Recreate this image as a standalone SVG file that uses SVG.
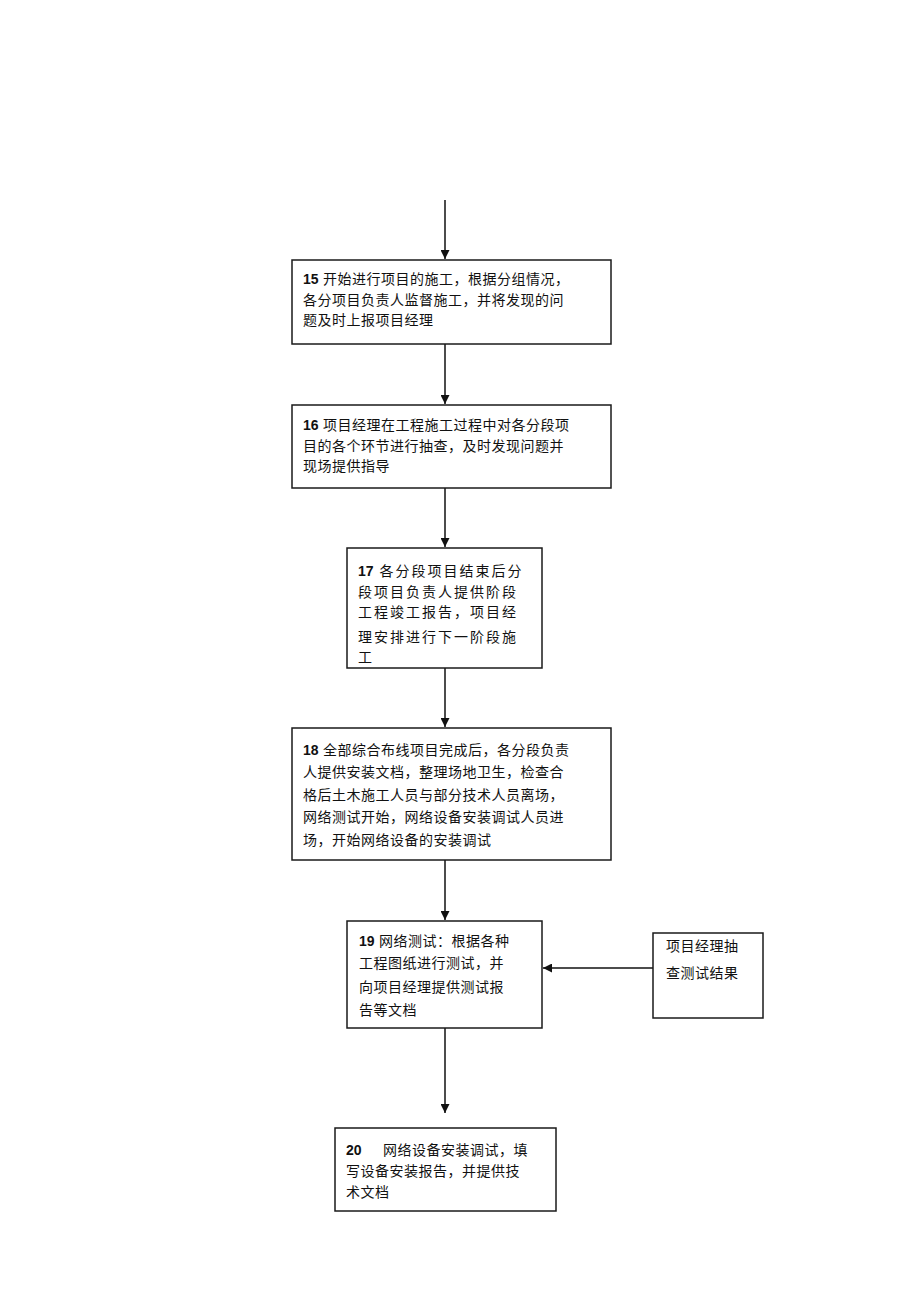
<svg xmlns="http://www.w3.org/2000/svg" width="920" height="1303" viewBox="0 0 920 1303">
<style>
.box{fill:#fff;stroke:#1a1a1a;stroke-width:1.5}
.t{font-family:"Liberation Sans","Noto Sans CJK SC",sans-serif;font-size:14px;fill:#111;letter-spacing:0.5px}
.w{letter-spacing:2px}
.n{font-weight:bold;letter-spacing:0}
.c{stroke:#111;stroke-width:1.5;fill:none}
</style>
<defs>
<marker id="ah" viewBox="0 0 10 10" refX="10" refY="5" markerWidth="6" markerHeight="6" orient="auto" markerUnits="strokeWidth">
<path d="M0,0 L10,5 L0,10 z" fill="#111"/>
</marker>
</defs>
<rect width="920" height="1303" fill="#fff"/>
<g id="connectors">
<line class="c" x1="445" y1="200" x2="445" y2="259" marker-end="url(#ah)"/>
<line class="c" x1="445" y1="344" x2="445" y2="404" marker-end="url(#ah)"/>
<line class="c" x1="445" y1="488" x2="445" y2="547" marker-end="url(#ah)"/>
<line class="c" x1="445" y1="668" x2="445" y2="727" marker-end="url(#ah)"/>
<line class="c" x1="445" y1="860" x2="445" y2="920" marker-end="url(#ah)"/>
<line class="c" x1="653" y1="968" x2="543" y2="968" marker-end="url(#ah)"/>
<line class="c" x1="445" y1="1028" x2="445" y2="1113" marker-end="url(#ah)"/>
</g>
<g id="n15">
<rect class="box" x="292" y="260" width="319" height="84"/>
<text class="t" x="303" y="284"><tspan class="n">15</tspan> 开始进行项目的施工，根据分组情况，</text>
<text class="t" x="303" y="305">各分项目负责人监督施工，并将发现的问</text>
<text class="t" x="303" y="325">题及时上报项目经理</text>
</g>
<g id="n16">
<rect class="box" x="292" y="405" width="319" height="83"/>
<text class="t" x="303" y="430"><tspan class="n">16</tspan> 项目经理在工程施工过程中对各分段项</text>
<text class="t" x="303" y="451">目的各个环节进行抽查，及时发现问题并</text>
<text class="t" x="303" y="471">现场提供指导</text>
</g>
<g id="n17">
<rect class="box" x="347" y="548" width="195" height="120"/>
<text class="t w" x="358" y="576"><tspan class="n">17</tspan> 各分段项目结束后分</text>
<text class="t w" x="358" y="597">段项目负责人提供阶段</text>
<text class="t w" x="358" y="617">工程竣工报告，项目经</text>
<text class="t w" x="358" y="642">理安排进行下一阶段施</text>
<text class="t w" x="358" y="662">工</text>
</g>
<g id="n18">
<rect class="box" x="292" y="728" width="319" height="132"/>
<text class="t" x="303" y="755"><tspan class="n">18</tspan> 全部综合布线项目完成后，各分段负责</text>
<text class="t" x="303" y="777">人提供安装文档，整理场地卫生，检查合</text>
<text class="t" x="303" y="800">格后土木施工人员与部分技术人员离场，</text>
<text class="t" x="303" y="822">网络测试开始，网络设备安装调试人员进</text>
<text class="t" x="303" y="845">场，开始网络设备的安装调试</text>
</g>
<g id="n19">
<rect class="box" x="347" y="921" width="195" height="107"/>
<text class="t" x="359" y="946"><tspan class="n">19</tspan> 网络测试：根据各种</text>
<text class="t" x="359" y="968">工程图纸进行测试，并</text>
<text class="t" x="359" y="992">向项目经理提供测试报</text>
<text class="t" x="359" y="1015">告等文档</text>
</g>
<g id="side">
<rect class="box" x="653" y="933" width="110" height="85" stroke-width="1.2"/>
<text class="t" x="666" y="951">项目经理抽</text>
<text class="t" x="666" y="978">查测试结果</text>
</g>
<g id="n20">
<rect class="box" x="335" y="1128" width="221" height="83"/>
<text class="t" x="346" y="1155"><tspan class="n">20</tspan><tspan x="383">网络设备安装调试，填</tspan></text>
<text class="t" x="346" y="1176">写设备安装报告，并提供技</text>
<text class="t" x="346" y="1197">术文档</text>
</g>
</svg>
